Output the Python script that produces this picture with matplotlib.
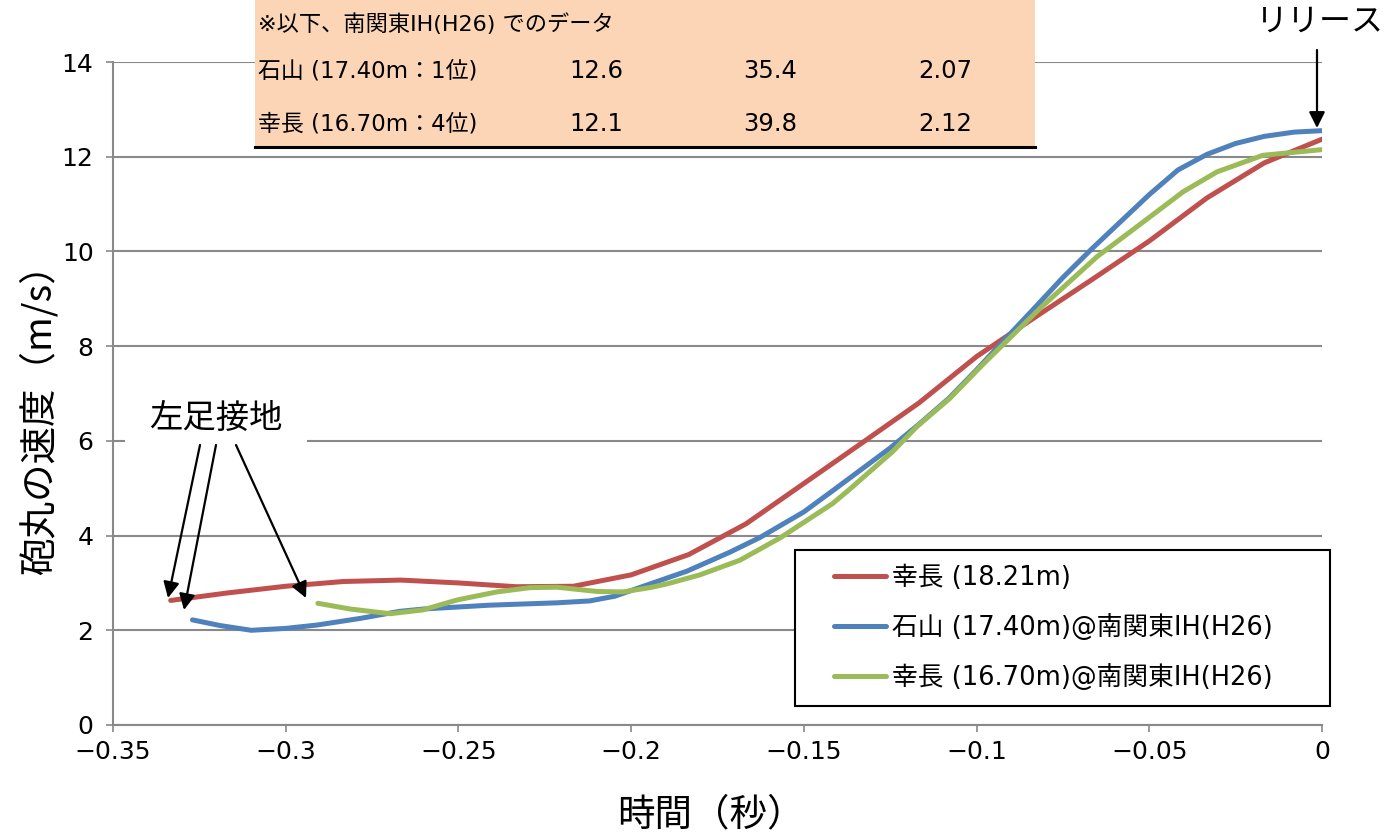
import matplotlib
matplotlib.use("Agg")
import matplotlib.pyplot as plt
from matplotlib.patches import Rectangle, FancyArrowPatch
from matplotlib.lines import Line2D
from matplotlib.legend_handler import HandlerLine2D

plt.rcParams['font.family'] = ['DejaVu Sans', 'Noto Sans CJK JP']

# ---------------- data ----------------
# 幸長 (18.21m): sampled at 60 Hz
red_t = [-0.3333, -0.3167, -0.3, -0.2833, -0.2667, -0.25, -0.2333, -0.2167, -0.2,
         -0.1833, -0.1667, -0.15, -0.1333, -0.1167, -0.1, -0.0833, -0.0667, -0.05,
         -0.0333, -0.0167, 0.0]
red_v = [2.63, 2.79, 2.93, 3.03, 3.06, 3.00, 2.92, 2.93, 3.17,
         3.60, 4.25, 5.10, 5.95, 6.80, 7.78, 8.60, 9.40, 10.22,
         11.13, 11.87, 12.37]

# 石山 (17.40m)@南関東IH(H26)
blue_t = [-0.327, -0.319, -0.310, -0.300, -0.291, -0.2785, -0.267, -0.260, -0.241,
          -0.2215, -0.212, -0.2047, -0.200, -0.1917, -0.1838, -0.1714, -0.1627,
          -0.150, -0.1416, -0.1333, -0.125, -0.1167, -0.108, -0.100, -0.0917,
          -0.0833, -0.075, -0.0667, -0.058, -0.050, -0.0417, -0.0333, -0.025,
          -0.0167, -0.008, 0.0]
blue_v = [2.22, 2.10, 2.00, 2.04, 2.11, 2.25, 2.40, 2.45, 2.53,
          2.58, 2.62, 2.72, 2.84, 3.05, 3.25, 3.65, 3.96,
          4.50, 4.95, 5.40, 5.85, 6.35, 6.90, 7.50, 8.15,
          8.80, 9.45, 10.05, 10.65, 11.20, 11.72, 12.05, 12.28,
          12.43, 12.52, 12.55]

# 幸長 (16.70m)@南関東IH(H26)
green_t = [-0.2907, -0.2814, -0.2698, -0.2603, -0.2504, -0.2389, -0.2293, -0.2215,
           -0.2099, -0.2024, -0.1946, -0.1896, -0.1801, -0.1685, -0.1569, -0.1416,
           -0.1367, -0.1242, -0.1173, -0.1077, -0.0981, -0.0816, -0.0651, -0.0498,
           -0.0402, -0.0304, -0.0171, 0.0]
green_v = [2.57, 2.45, 2.35, 2.43, 2.64, 2.81, 2.90, 2.91,
           2.82, 2.81, 2.90, 2.98, 3.17, 3.48, 3.95, 4.68,
           4.98, 5.78, 6.30, 6.90, 7.62, 8.80, 9.89, 10.73,
           11.26, 11.68, 12.03, 12.15]

series_labels = ['幸長 (18.21m)', '石山 (17.40m)@南関東IH(H26)', '幸長 (16.70m)@南関東IH(H26)']
series_colors = ['#C0504D', '#4F81BD', '#9BBB59']

x_ticks = [-0.35, -0.3, -0.25, -0.2, -0.15, -0.1, -0.05, 0.0]
x_ticklabels = ['−0.35', '−0.3', '−0.25', '−0.2', '−0.15', '−0.1', '−0.05', '0']
y_ticks = [0, 2, 4, 6, 8, 10, 12, 14]

table_note = '※以下、南関東IH(H26) でのデータ'
table_rows = ['石山 (17.40m：1位)', '幸長 (16.70m：4位)']
table_vals = [['12.6', '35.4', '2.07'], ['12.1', '39.8', '2.12']]

# ---------------- figure ----------------
W, H = 1384, 839
fig = plt.figure(figsize=(W / 100, H / 100), dpi=100)


def fx(px):
    return px / W


def fy(py):
    return 1 - py / H


ax = fig.add_axes([fx(113), fy(725), (1322 - 113) / W, (725 - 62) / H])
ax.set_xlim(-0.35, 0)
ax.set_ylim(0, 14)

grid_c = '#898989'
ax.set_yticks(y_ticks)
ax.set_xticks(x_ticks)
ax.set_xticklabels(x_ticklabels)
ax.yaxis.grid(True, color=grid_c, lw=1.5)
ax.set_axisbelow(True)
for s in ['top', 'right']:
    ax.spines[s].set_visible(False)
for s in ['left', 'bottom']:
    ax.spines[s].set_color(grid_c)
    ax.spines[s].set_linewidth(1.5)
ax.tick_params(axis='both', direction='out', length=5, width=1.2, color=grid_c,
               labelsize=18, labelcolor='black')
ax.tick_params(axis='y', pad=9)
ax.tick_params(axis='x', pad=6)

for t, v, c, lab in zip([red_t, blue_t, green_t], [red_v, blue_v, green_v],
                        series_colors, series_labels):
    ax.plot(t, v, color=c, lw=3.6, label=lab, solid_capstyle='round',
            solid_joinstyle='round')

fig.text(fx(711), fy(815), '時間（秒）', ha='center', va='center', fontsize=27,
         family=['Noto Sans CJK JP'])
fig.text(fx(40), fy(410), '砲丸の速度（m/s）', rotation=90, ha='center', va='center',
         fontsize=27, family=['Noto Sans CJK JP', 'DejaVu Sans'])

leg_fs = 18.5
leg_px = leg_fs * 100 / 72
leg = ax.legend(loc='upper left',
                bbox_to_anchor=(fx(795), fy(700), (1330 - 795) / W, 150 / H),
                bbox_transform=fig.transFigure, mode='expand', borderaxespad=0,
                fancybox=False, edgecolor='black', framealpha=1, fontsize=leg_fs,
                handlelength=(52 + 24) / leg_px, handletextpad=0.2,
                labelspacing=0.88, borderpad=0.6,
                handler_map={Line2D: HandlerLine2D(xpad=24 / leg_px)})
leg.get_frame().set_linewidth(1.5)
for ln in leg.get_lines():
    ln.set_linewidth(3.6)

# ---------------- data table overlay ----------------
fig.add_artist(Rectangle((fx(255), fy(147)), (1035 - 255) / W, 147 / H,
                         transform=fig.transFigure, facecolor='#FBD5B5',
                         edgecolor='none', zorder=2))
fig.add_artist(Line2D([fx(255), fx(1035)], [fy(147), fy(147)], color='black',
                      lw=2.2, transform=fig.transFigure, zorder=3))
fig.text(fx(258), fy(24), table_note, ha='left', va='center', fontsize=16, zorder=4)
row_y = [71, 124]
col_x = [569, 743, 918]
for ry, name, vals in zip(row_y, table_rows, table_vals):
    fig.text(fx(258), fy(ry), name, ha='left', va='center', fontsize=16.5, zorder=4)
    for cx, val in zip(col_x, vals):
        fig.text(fx(cx), fy(ry), val, ha='left', va='center', fontsize=17.5, zorder=4)

# ---------------- annotations ----------------
fig.add_artist(Rectangle((fx(125), fy(447)), (307 - 125) / W, (447 - 393) / H,
                         transform=fig.transFigure, facecolor='white',
                         edgecolor='none', zorder=2))
fig.text(fx(216), fy(418), '左足接地', ha='center', va='center', fontsize=24,
         family=['Noto Sans CJK JP'], zorder=4)

arrow_kw = dict(arrowstyle='-|>', color='black', lw=1.6, mutation_scale=24,
                shrinkA=0, shrinkB=0)
for (x0, y0), (x1, y1) in [((200, 445), (168, 598)),
                           ((216, 445), (184, 610)),
                           ((236, 445), (306, 598)),
                           ((1317, 50), (1317, 128))]:
    fig.add_artist(FancyArrowPatch(
        (fx(x0), fy(y0)), (fx(x1), fy(y1)), transform=fig.transFigure,
        zorder=5, **arrow_kw))

fig.text(fx(1320), fy(22), 'リリース', ha='center', va='center', fontsize=23,
         family=['Noto Sans CJK JP'], zorder=4)

fig.savefig('out.png', dpi=100)
